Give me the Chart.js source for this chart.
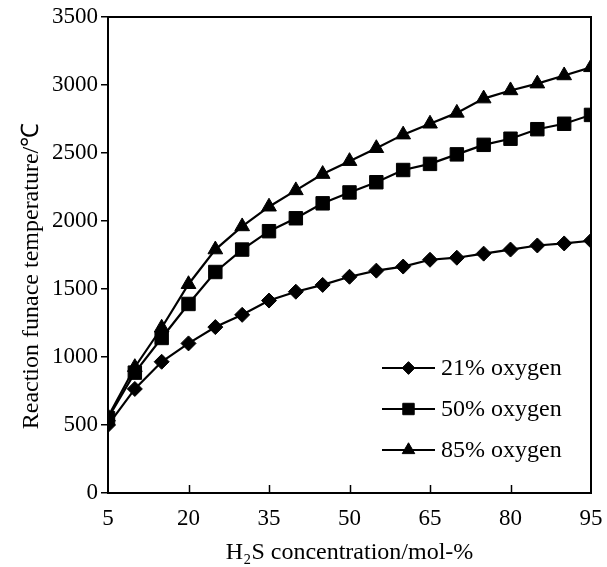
<!DOCTYPE html>
<html lang="en">
<head>
<meta charset="UTF-8">
<title>Reaction furnace temperature</title>
<style>
  html, body { margin: 0; padding: 0; background: #fff; }
</style>
</head>
<body>
<canvas id="myChart" width="607" height="567"></canvas>

<script src="https://cdn.jsdelivr.net/npm/chart.js"></script>
<script>
    // H2S concentration, mol-%
    const concentration = [5, 10, 15, 20, 25, 30, 35, 40, 45, 50, 55, 60, 65, 70, 75, 80, 85, 90, 95];
    // reaction furnace temperature, deg C
    const oxygen21 = [500, 765, 965, 1100, 1220, 1310, 1415, 1480, 1530, 1590, 1635, 1665, 1715, 1730, 1760, 1790, 1820, 1835, 1855];
    const oxygen50 = [550, 885, 1140, 1390, 1625, 1790, 1925, 2020, 2130, 2210, 2285, 2375, 2420, 2490, 2560, 2605, 2675, 2715, 2780];
    const oxygen85 = [560, 925, 1215, 1535, 1790, 1960, 2105, 2225, 2345, 2440, 2535, 2635, 2715, 2795, 2900, 2960, 3010, 3070, 3130];
    const seriesNames = ['21% oxygen', '50% oxygen', '85% oxygen'];
    const xTicks = [5, 20, 35, 50, 65, 80, 95];
    const yTicks = [0, 500, 1000, 1500, 2000, 2500, 3000, 3500];
    const yTitle = 'Reaction funace temperature/\u2103';

    const fonte = 'Liberation Serif, Times New Roman, serif';
    const toPoints = vals => vals.map((v, i) => ({ x: concentration[i], y: v }));

    function serie(label, vals, style, radius) {
        return {
            label: label,
            data: toPoints(vals),
            borderColor: '#000',
            backgroundColor: '#000',
            borderWidth: 2.2,
            pointStyle: style,
            pointRadius: radius,
            pointBorderWidth: 1,
            pointBackgroundColor: '#000',
            pointBorderColor: '#000',
            tension: 0
        };
    }

    // box round the plot, inward x ticks, y title and the legend inside the plot
    const extras = {
        id: 'extras',
        afterDraw(chart) {
            const ctx = chart.ctx;
            const a = chart.chartArea;
            const xs = chart.scales.x;
            ctx.save();
            ctx.strokeStyle = '#000';
            ctx.lineWidth = 2;
            ctx.strokeRect(a.left, a.top, a.right - a.left, a.bottom - a.top);

            ctx.lineWidth = 1.5;
            xTicks.slice(1, -1).forEach(t => {
                const px = Math.round(xs.getPixelForValue(t)) + 0.5;
                ctx.beginPath();
                ctx.moveTo(px, a.bottom);
                ctx.lineTo(px, a.bottom - 8);
                ctx.stroke();
            });

            // y axis title, sits a little below the middle of the axis
            ctx.save();
            ctx.translate(32, (a.top + a.bottom) / 2 + 21);
            ctx.rotate(-Math.PI / 2);
            ctx.fillStyle = '#000';
            ctx.font = '24px ' + fonte;
            ctx.textAlign = 'center';
            ctx.textBaseline = 'middle';
            ctx.fillText(yTitle, 0, 0);
            ctx.restore();

            // legend
            const x0 = 382, x1 = 435, rows = [368, 409, 450];
            chart.data.datasets.forEach((ds, i) => {
                const y = rows[i];
                ctx.strokeStyle = '#000';
                ctx.lineWidth = 2.2;
                ctx.beginPath();
                ctx.moveTo(x0, y);
                ctx.lineTo(x1, y);
                ctx.stroke();
                ctx.fillStyle = '#000';
                ctx.lineWidth = 1;
                Chart.helpers.drawPoint(ctx, {
                    pointStyle: ds.pointStyle,
                    radius: ds.pointRadius * 0.85,
                    rotation: 0,
                    borderWidth: 1
                }, (x0 + x1) / 2, y);
                ctx.font = '24px ' + fonte;
                ctx.textBaseline = 'middle';
                ctx.textAlign = 'left';
                ctx.fillText(ds.label, x1 + 6, y + 1);
            });
            ctx.restore();
        }
    };

    const ctx = document.getElementById('myChart');

    new Chart(ctx, {
        type: 'line',
        data: {
            datasets: [
                serie(seriesNames[0], oxygen21, 'rectRot', 7.5),
                serie(seriesNames[1], oxygen50, 'rect', 9.5),
                serie(seriesNames[2], oxygen85, 'triangle', 8.5)
            ]
        },
        options: {
            responsive: false,
            animation: false,
            devicePixelRatio: 1,
            layout: { padding: { left: 18, right: 16, top: 17, bottom: 0 } },
            plugins: {
                legend: { display: false },
                tooltip: { enabled: false }
            },
            scales: {
                x: {
                    type: 'linear',
                    min: 5,
                    max: 95,
                    afterBuildTicks: s => { s.ticks = xTicks.map(v => ({ value: v })); },
                    afterFit: s => { s.height = 74; s.paddingRight = 0; s.paddingLeft = 0; },
                    grid: { drawOnChartArea: false, drawTicks: false },
                    border: { color: '#000', width: 2 },
                    ticks: {
                        color: '#000',
                        padding: 12,
                        maxRotation: 0,
                        callback: v => String(v),
                        font: { family: fonte, size: 23 }
                    },
                    title: {
                        display: true,
                        text: 'H\u2082S concentration/mol-%',
                        color: '#000',
                        padding: { top: 0, bottom: 0 },
                        font: { family: fonte, size: 24 }
                    }
                },
                y: {
                    min: 0,
                    max: 3500,
                    afterBuildTicks: s => { s.ticks = yTicks.map(v => ({ value: v })); },
                    afterFit: s => { s.width = 90; },
                    grid: { drawOnChartArea: false, drawTicks: true, tickLength: 7, color: '#000', lineWidth: 1.5 },
                    border: { color: '#000', width: 2 },
                    ticks: {
                        color: '#000',
                        padding: 3,
                        callback: v => String(v),
                        font: { family: fonte, size: 23 }
                    },
                    title: { display: false }
                }
            }
        },
        plugins: [extras]
    });
</script>
</body>
</html>
